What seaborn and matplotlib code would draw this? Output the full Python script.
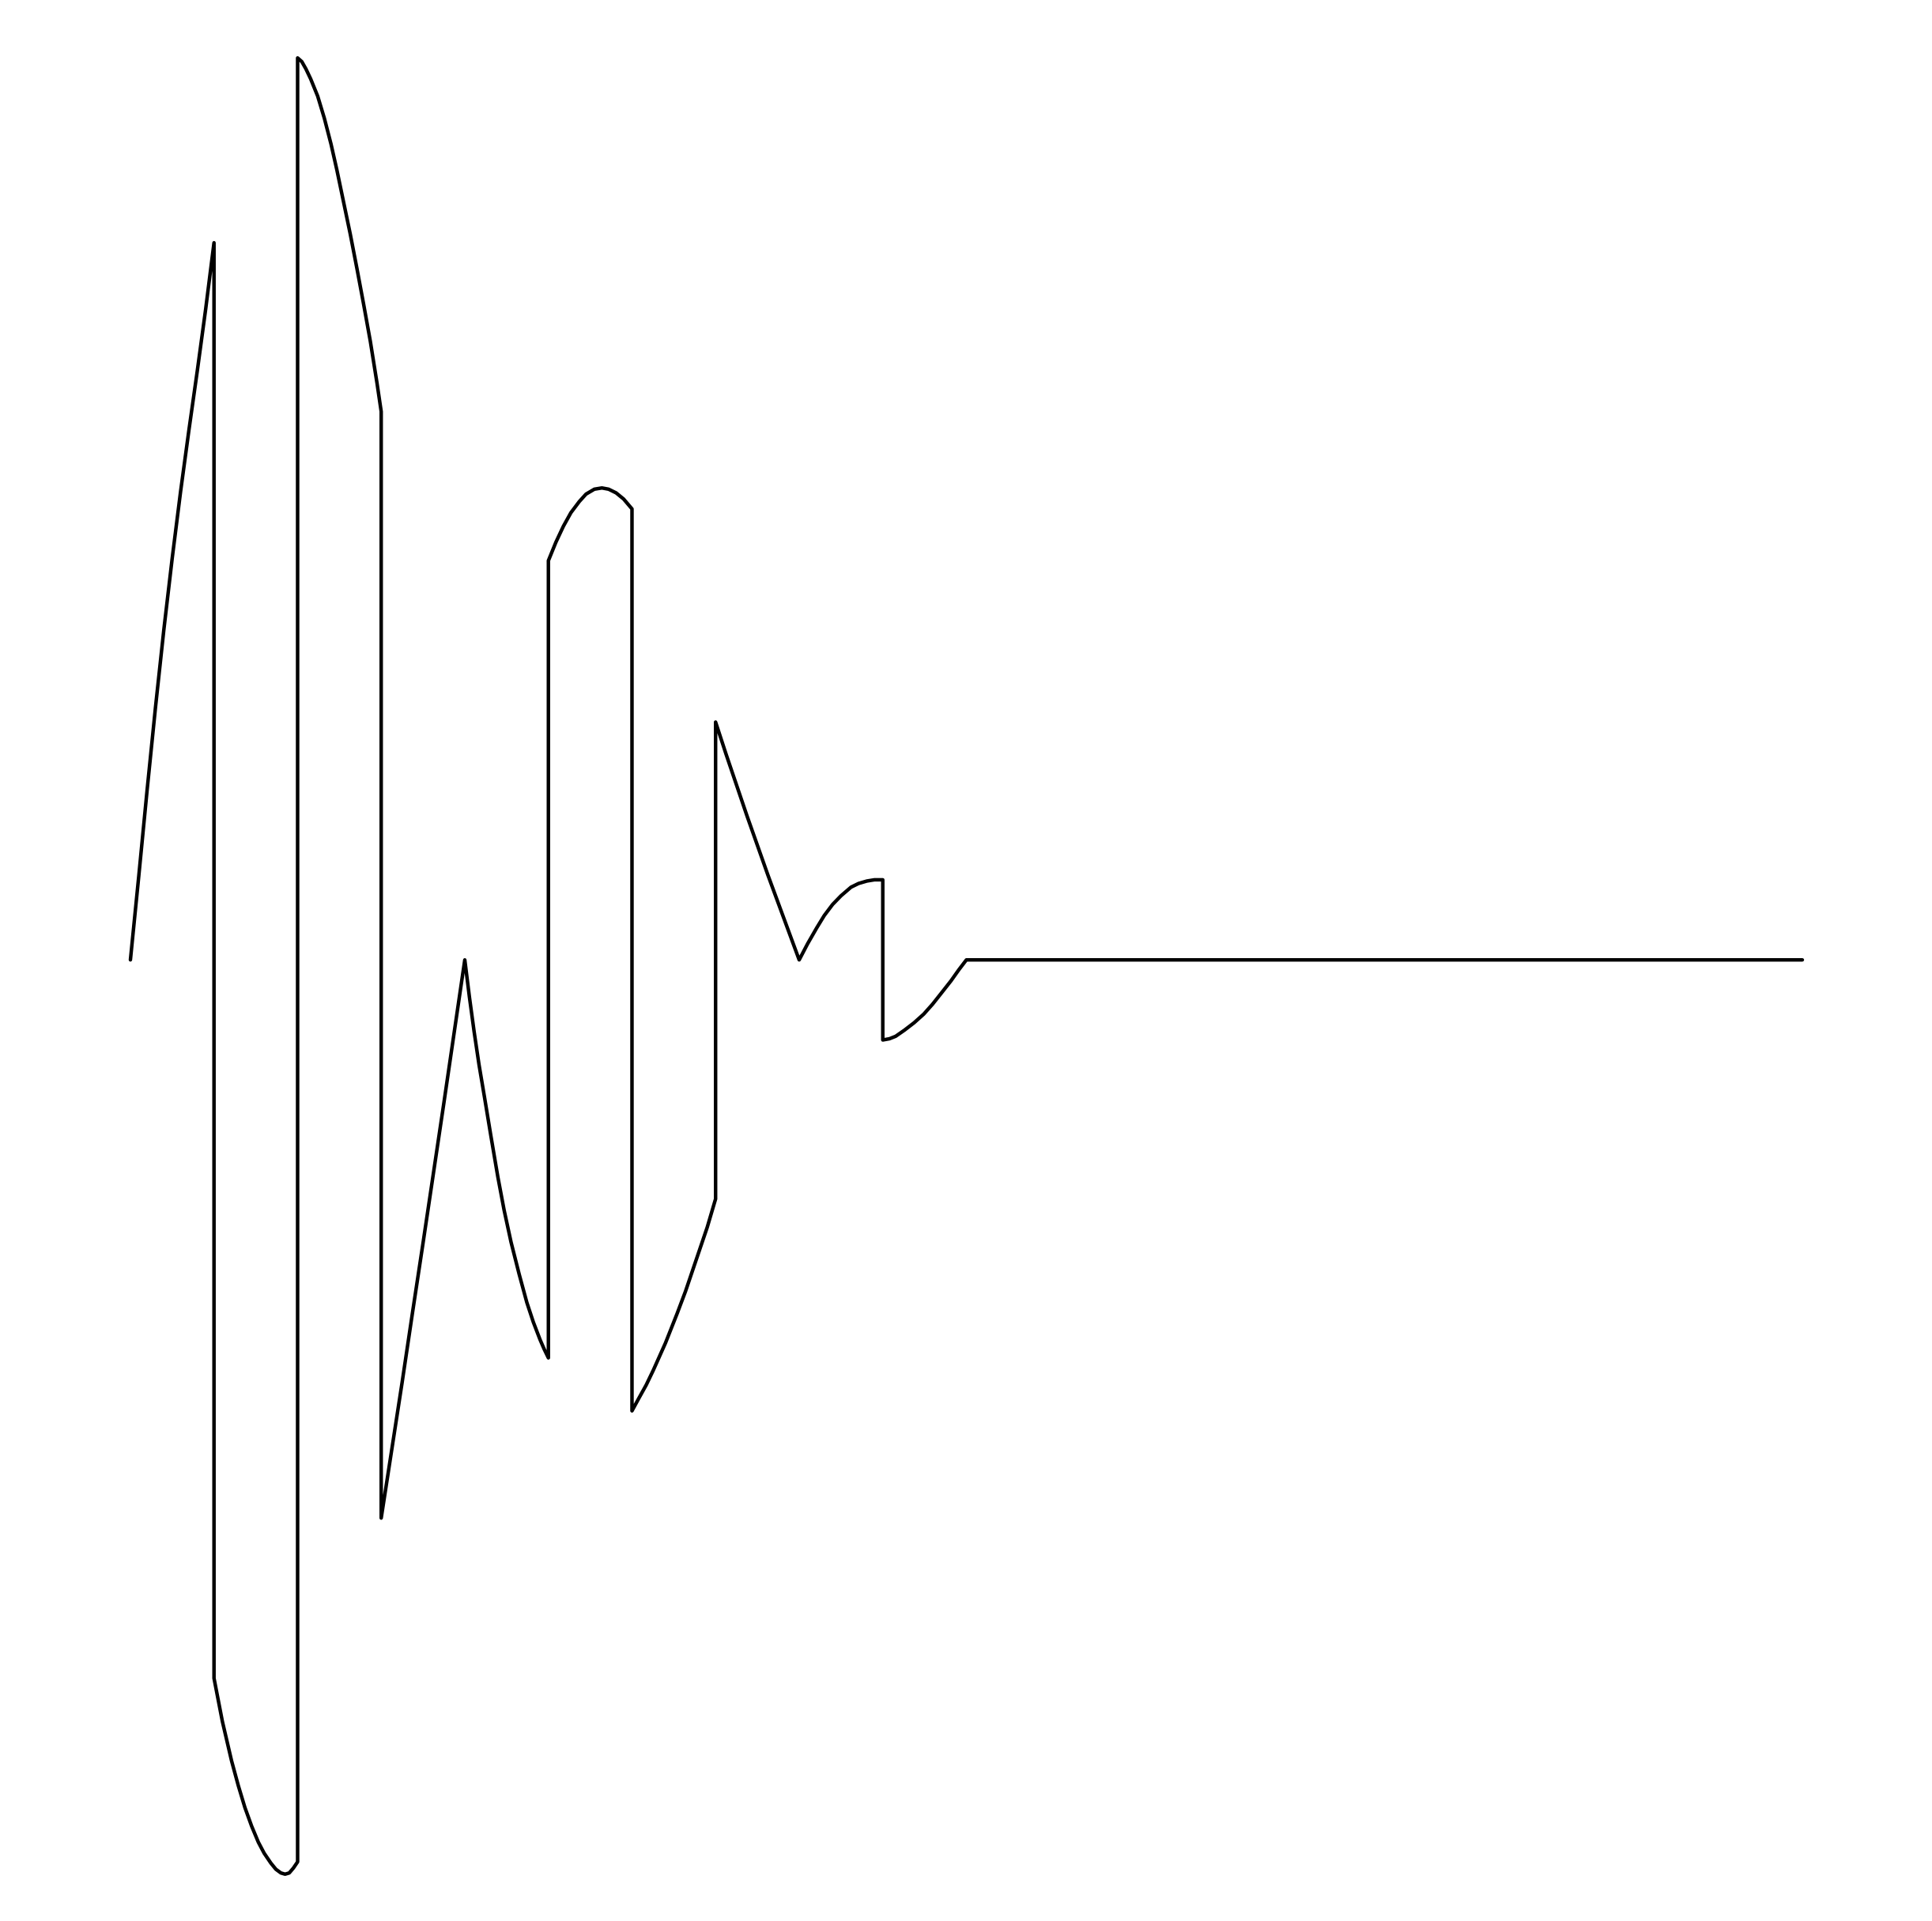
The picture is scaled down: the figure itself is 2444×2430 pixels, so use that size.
import pandas as pd
import matplotlib.pyplot as plt
import seaborn as sns

# path of the trace (x in steps, y in px above baseline)
seg_x = [
    [0.0, 0.1, 0.2, 0.3, 0.4, 0.5, 0.6, 0.7, 0.8, 0.9, 1.0],
    [1.0, 1.1, 1.21, 1.29, 1.37, 1.45, 1.53, 1.6, 1.68, 1.74, 1.8, 1.85,
     1.9, 1.95, 2.0],
    [2.0, 2.05, 2.1, 2.156, 2.24, 2.32, 2.4, 2.47, 2.55, 2.63, 2.71, 2.79,
     2.87, 2.95, 3.0],
    [3.0, 3.125, 3.25, 3.375, 3.5, 3.625, 3.75, 3.875, 4.0],
    [4.0, 4.055, 4.111, 4.17, 4.237, 4.31, 4.395, 4.47, 4.553, 4.65, 4.742,
     4.82, 4.899, 4.95, 5.0],
    [5.0, 5.09, 5.18, 5.27, 5.37, 5.45, 5.55, 5.64, 5.72, 5.81, 5.9, 6.0],
    [6.0, 6.08, 6.17, 6.255, 6.4, 6.54, 6.64, 6.74, 6.82, 6.9, 7.0],
    [7.0, 7.125, 7.25, 7.375, 7.5, 7.625, 7.75, 7.875, 8.0],
    [8.0, 8.1, 8.21, 8.3, 8.4, 8.5, 8.62, 8.71, 8.81, 8.9, 9.0],
    [9.0, 9.08, 9.154, 9.26, 9.375, 9.49, 9.595, 9.7, 9.816, 9.91, 10.0],
    [10.0, 20.0],
]
seg_y = [
    [0, 68, 138, 205, 268, 326, 380, 430, 478, 528, 582],
    [-583, -618, -650, -670, -688, -703, -716, -725, -733, -738, -741, -742,
     -741, -737, -732],
    [732, 729, 723, 715, 701, 683, 662, 641, 615, 589, 561, 532,
     502, 468, 445],
    [-453, -398, -343, -286, -230, -173, -116, -58, 0],
    [0, -30, -58, -85, -112, -142, -176, -203, -229, -255, -278,
     -294, -308, -316, -323],
    [324, 339, 352, 363, 372, 378, 382, 383, 382, 379, 374, 366],
    [-366, -356, -345, -333, -311, -287, -269, -249, -233, -217, -194],
    [193, 167, 142, 117, 93, 69, 46, 23, 0],
    [0, 13, 26, 36, 45, 52, 59, 62, 64, 65, 65],
    [-65, -64, -62, -57, -51, -44, -36, -27, -17, -8, 0],
    [0, 0],
]

x_vals = [v for s in seg_x for v in s]
y_vals = [v for s in seg_y for v in s]
df = pd.DataFrame({"x": x_vals, "y": y_vals})

sns.set_style("white")
fig = plt.figure(figsize=(24.44, 24.30), dpi=100)
ax = fig.add_axes([0, 0, 1, 1])
sns.lineplot(data=df, x="x", y="y", sort=False, estimator=None,
             color="black", linewidth=3.2, ax=ax)
ax.set_xlim(-1.560, 21.551)
ax.set_ylim(-780, 779)
ax.axis("off")
fig.savefig("out.png", dpi=100)
